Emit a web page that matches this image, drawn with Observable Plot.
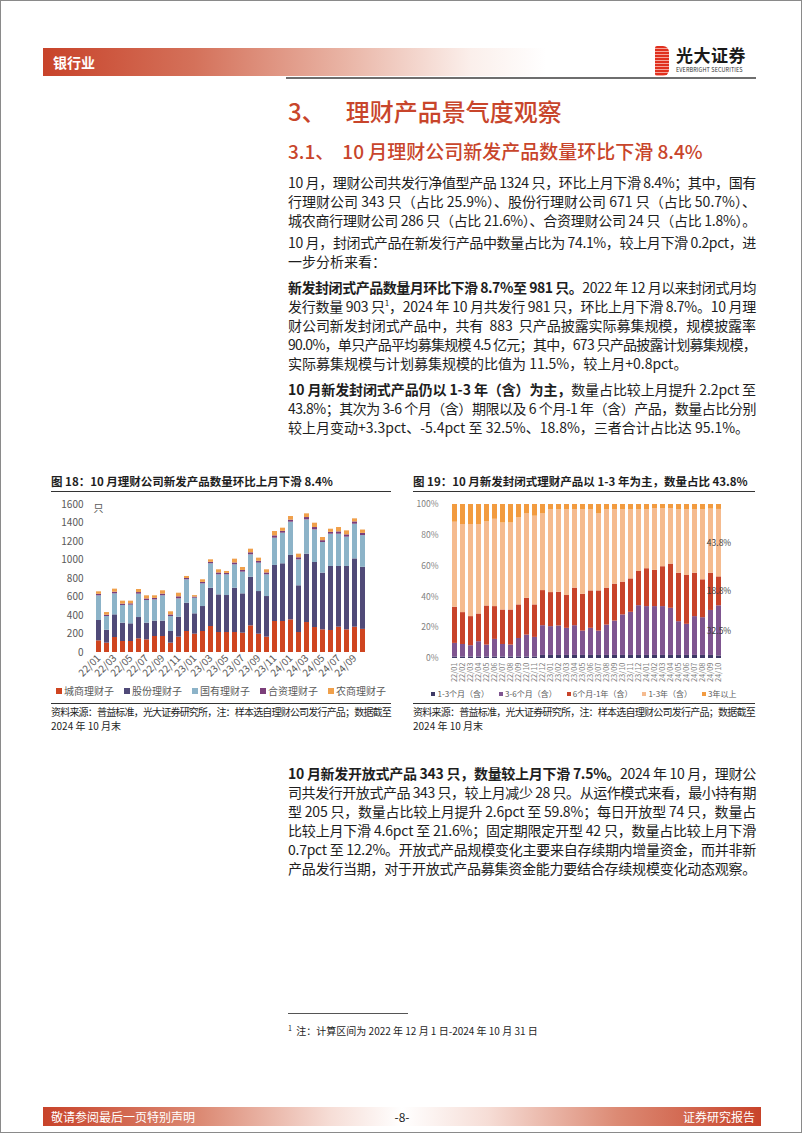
<!DOCTYPE html>
<html><head><meta charset="utf-8">
<script src="https://cdn.jsdelivr.net/npm/d3@7"></script>
<script src="https://cdn.jsdelivr.net/npm/@observablehq/plot@0.6"></script>
<style>
html,body{margin:0;padding:0;background:#fff;}
#page{position:relative;width:802px;height:1133px;overflow:hidden;font-family:"Noto Sans CJK SC","Noto Sans",sans-serif;color:#1e1e1e;box-sizing:border-box;border:1px solid #8a8a8a;}
.abs{position:absolute;}
.para{position:absolute;left:287px;width:468px;font-size:14px;line-height:19px;}
.fit{white-space:nowrap;}
.para b{font-weight:700;}
.figtitle{position:absolute;font-size:11.5px;font-weight:700;line-height:16px;white-space:nowrap;}
.rule{position:absolute;height:1px;background:#333;}
.src{position:absolute;font-size:10px;line-height:14px;color:#1e1e1e;}
.legend{position:absolute;display:flex;white-space:nowrap;color:#595959;}
.legend span.item{display:inline-flex;align-items:center;}
.legend i{display:inline-block;margin-right:2px;}
</style></head>
<body><div id="page">

<!-- header -->
<div class="abs" style="left:42px;top:47px;width:503px;height:28px;background:linear-gradient(to right,#c8432a 0%,#d4715a 30%,#e9b4a5 60%,#fbefeb 85%,#ffffff 100%);"></div>
<div class="abs" style="left:52px;top:47px;height:28px;line-height:28px;color:#fff;font-weight:700;font-size:14px;">银行业</div>
<div class="abs" style="left:285px;top:76px;width:470px;height:2px;background:#6e6e6e;"></div>
<div class="abs" style="left:654px;top:45px;width:14px;height:30px;background:repeating-linear-gradient(to bottom,#e0301e 0px,#e0301e 2.2px,#f6a49a 2.2px,#f6a49a 3px);border-radius:2px 6px 6px 2px;"></div>
<div class="abs" style="left:675px;top:44px;font-size:17px;font-weight:700;color:#1a1a1a;letter-spacing:0.5px;line-height:20px;">光大证券</div>
<div class="abs" style="left:675px;top:66px;font-size:5.5px;color:#333;line-height:7px;letter-spacing:0.1px;">EVERBRIGHT SECURITIES</div>

<!-- section titles -->
<div class="abs" style="left:287px;top:94px;font-size:24px;line-height:32px;color:#c8452b;font-weight:500;white-space:nowrap;">3、<span style="display:inline-block;width:20px;"></span>理财产品景气度观察</div>
<div class="abs" style="left:287px;top:137px;font-size:19px;line-height:26px;color:#c8452b;font-weight:500;white-space:nowrap;">3.1、<span style="display:inline-block;width:8px;"></span>10 月理财公司新发产品数量环比下滑 8.4%</div>

<div class="para" style="top:172px;">
<div class="fit j">10 月，理财公司共发行净值型产品 1324 只，环比上月下滑 8.4%；其中，国有</div>
<div class="fit j">行理财公司 343 只（占比 25.9%）、股份行理财公司 671 只（占比 50.7%）、</div>
<div class="fit">城农商行理财公司 286 只（占比 21.6%）、合资理财公司 24 只（占比 1.8%）。</div>
</div>
<div class="para" style="top:232px;">
<div class="fit j">10 月，封闭式产品在新发行产品中数量占比为 74.1%，较上月下滑 0.2pct，进</div>
<div class="fit">一步分析来看：</div>
</div>
<div class="para" style="top:277px;">
<div class="fit j"><b>新发封闭式产品数量月环比下滑 8.7%至 981 只。</b>2022 年 12 月以来封闭式月均</div>
<div class="fit j">发行数量 903 只<sup style="font-size:8px;line-height:0;">1</sup>，2024 年 10 月共发行 981 只，环比上月下滑 8.7%。10 月理</div>
<div class="fit j">财公司新发封闭式产品中，共有&nbsp; 883&nbsp; 只产品披露实际募集规模，规模披露率</div>
<div class="fit j">90.0%，单只产品平均募集规模 4.5 亿元；其中，673 只产品披露计划募集规模，</div>
<div class="fit">实际募集规模与计划募集规模的比值为 11.5%，较上月+0.8pct。</div>
</div>
<div class="para" style="top:379px;">
<div class="fit j"><b>10 月新发封闭式产品仍以 1-3 年（含）为主，</b>数量占比较上月提升 2.2pct 至</div>
<div class="fit j">43.8%；其次为 3-6 个月（含）期限以及 6 个月-1 年（含）产品，数量占比分别</div>
<div class="fit">较上月变动+3.3pct、-5.4pct 至 32.5%、18.8%，三者合计占比达 95.1%。</div>
</div>

<!-- figure titles -->
<div class="figtitle" style="left:50px;top:472px;">图 18：10 月理财公司新发产品数量环比上月下滑 8.4%</div>
<div class="figtitle" style="left:412px;top:472px;">图 19：10 月新发封闭式理财产品以 1-3 年为主，数量占比 43.8%</div>
<div class="rule" style="left:50px;top:490px;width:340px;"></div>
<div class="rule" style="left:412px;top:490px;width:342px;"></div>

<div id="chartA" class="abs" style="left:50px;top:493px;"></div>
<div id="chartB" class="abs" style="left:412px;top:495px;"></div>
<div id="legendA" class="legend" style="left:50px;top:683px;width:340px;justify-content:center;font-size:10px;line-height:14px;"></div>
<div id="legendB" class="legend" style="left:412px;top:687px;width:342px;justify-content:center;font-size:8px;line-height:12px;"></div>

<div class="rule" style="left:50px;top:702px;width:340px;"></div>
<div class="rule" style="left:412px;top:702px;width:342px;"></div>
<div class="src" style="left:50px;top:704px;width:340px;"><div class="fit" data-w="340">资料来源：普益标准，光大证券研究所，注：样本选自理财公司发行产品；数据截至</div><div>2024 年 10 月末</div></div>
<div class="src" style="left:412px;top:704px;width:342px;"><div class="fit" data-w="342">资料来源：普益标准，光大证券研究所，注：样本选自理财公司发行产品；数据截至</div><div>2024 年 10 月末</div></div>

<div class="para" style="top:763px;">
<div class="fit j"><b>10 月新发开放式产品 343 只，数量较上月下滑 7.5%。</b>2024 年 10 月，理财公</div>
<div class="fit j">司共发行开放式产品 343 只，较上月减少 28 只。从运作模式来看，最小持有期</div>
<div class="fit j">型 205 只，数量占比较上月提升 2.6pct 至 59.8%；每日开放型 74 只，数量占</div>
<div class="fit j">比较上月下滑 4.6pct 至 21.6%；固定期限定开型 42 只，数量占比较上月下滑</div>
<div class="fit j">0.7pct 至 12.2%。开放式产品规模变化主要来自存续期内增量资金，而并非新</div>
<div class="fit j">产品发行当期，对于开放式产品募集资金能力要结合存续规模变化动态观察。</div>
</div>

<!-- footnote -->
<div class="abs" style="left:287px;top:1012px;width:120px;height:1px;background:#555;"></div>
<div class="abs" style="left:287px;top:1019px;font-size:10px;line-height:16px;white-space:nowrap;"><sup style="font-size:7px;">1</sup>&nbsp; 注：计算区间为 2022 年 12 月 1 日-2024 年 10 月 31 日</div>

<!-- footer -->
<div class="abs" style="left:42px;top:1106px;width:718px;height:19px;background:linear-gradient(to right,#c8432a 0%,#dc8a74 22%,#f6ddd6 40%,#ffffff 50%,#f6ddd6 62%,#dc8a74 80%,#c8432a 100%);"></div>
<div class="abs" style="left:50px;top:1106px;height:19px;line-height:19px;font-size:12px;color:#fff;">敬请参阅最后一页特别声明</div>
<div class="abs" style="left:381px;top:1106px;width:40px;text-align:center;height:19px;line-height:19px;font-size:12px;color:#1e1e1e;">-8-</div>
<div class="abs" style="left:655px;top:1106px;width:99px;text-align:right;height:19px;line-height:19px;font-size:12px;color:#fff;">证券研究报告</div>

</div>
<script>
// ---------- data: chart 18 ----------
const monthsA = ["22/01","22/02","22/03","22/04","22/05","22/06","22/07","22/08","22/09","22/10","22/11","22/12",
"23/01","23/02","23/03","23/04","23/05","23/06","23/07","23/08","23/09","23/10","23/11","23/12",
"24/01","24/02","24/03","24/04","24/05","24/06","24/07","24/08","24/09","24/10"];
const seriesA = ["城商理财子","股份理财子","国有理财子","合资理财子","农商理财子"];
const colorsA = ["#cf4520","#504a78","#8cb3c8","#7b3e7a","#f0a04b"];
const chengshang = [126,101,162,119,119,148,137,173,173,101,166,227,198,227,281,216,216,216,209,288,198,166,335,335,353,216,324,270,245,238,274,245,274,250];
const gufen      = [220,140,245,198,191,230,180,166,166,126,216,306,220,270,414,407,400,479,425,526,461,439,606,624,696,505,739,703,613,692,656,685,738,671];
const guoyou     = [267,148,227,191,202,253,245,230,274,162,198,253,169,245,264,217,224,253,235,242,307,235,295,331,360,281,371,353,331,349,349,317,375,343];
const hezi       = [16,14,18,15,14,17,17,16,18,17,22,14,12,16,16,20,15,20,18,22,20,20,25,20,22,22,25,25,20,20,25,25,25,24];
const nongshang  = [27,29,33,32,29,33,34,28,36,34,39,22,16,28,27,34,21,41,32,39,34,34,47,34,39,39,40,47,34,34,47,43,33,36];
const ticksA = [0,200,400,600,800,1000,1200,1400,1600];

// ---------- data: chart 19 ----------
const monthsB = monthsA;
const seriesB = ["1-3个月（含）","3-6个月（含）","6个月-1年（含）","1-3年（含）","3年以上"];
const colorsB = ["#3e3966","#7f5590","#c8432a","#f5bb8f","#f29b3f"];
const m1to3   = [1,1,1,1,1,1,1,1,1,1,1,2,2,2,2,2,2,2,2,2,2,2,2,2,2,2,2,2,2,2,2,2,2,1.7];
const m3to6   = [8.8,8.1,7.3,9.9,7.7,11.4,8.1,7.7,12,14.2,12.7,19.3,18.7,19.1,17.6,19.3,15.8,17.6,15.8,19.7,22.3,26.3,28.0,32.3,31.7,31.7,31.7,30.6,21.9,20.2,25.2,24.5,29.2,32.5];
const m6to12  = [23.5,20.7,18.9,18.0,25.4,21.3,22.4,22.8,21.8,23.9,21.1,22.8,22.1,21.9,21.3,24.4,23.9,24.3,26.1,24.0,24.0,21.3,21.7,22.2,24.6,23.5,25.9,28.7,31.5,31.7,28.2,24.6,24.2,18.8];
const y1to3   = [55.2,57.2,59.8,58.1,54.6,56.7,56.5,56.5,56.5,54.8,57.6,49.8,53.9,53.7,55.8,51.0,55.0,52.8,50.0,51.0,48.4,47.1,45.0,40.2,38.4,40.2,37.8,36.1,41.3,42.8,41.3,45.6,41.6,43.8];
const y3plus  = [11.5,13,13,13,11.3,9.6,12,12,8.7,6.1,7.6,6.1,3.3,3.3,3.3,3.3,3.3,3.3,6.1,3.3,3.3,3.3,3.3,3.3,3.3,2.6,2.6,2.6,3.3,3.3,3.3,3.3,3.0,3.2];
const labelSeriesB = ["3-6个月（含）","6个月-1年（含）","1-3年（含）"];
const ticksB = [0,0.2,0.4,0.6,0.8,1];

// ---------- tables ----------
const colsA = [chengshang, gufen, guoyou, hezi, nongshang];
const tableA = monthsA.flatMap((m,i) => seriesA.map((s,j) => ({month:m, series:s, value:colsA[j][i]})));
const colsB = [m1to3, m3to6, m6to12, y1to3, y3plus];
const tableB = monthsB.flatMap((m,i) => seriesB.map((s,j) => ({month:m, series:s, value:colsB[j][i]})));
const lastB = monthsB[monthsB.length-1];

const font = '"Noto Sans CJK SC","Noto Sans",sans-serif';

const chartA = Plot.plot({
  width: 340, height: 193,
  marginLeft: 37, marginRight: 18, marginTop: 10, marginBottom: 35,
  style: {fontFamily: font, fontSize: "10px", color: "#595959", background: "transparent", overflow: "visible"},
  x: {domain: monthsA, padding: 0.4},
  y: {domain: [0,1600]},
  color: {domain: seriesA, range: colorsA},
  marks: [
    Plot.barY(tableA, {x: "month", y: "value", fill: "series"}),
    Plot.axisY({ticks: ticksA, tickFormat: d => String(d), tickSize: 0, tickPadding: 5, label: null}),
    Plot.axisX({ticks: monthsA.filter((_, i) => i % 2 === 0), tickRotate: -45, tickSize: 0, tickPadding: 4, label: null}),
    Plot.text(["只"], {frameAnchor: "top-left", dx: 5, textAnchor: "start", fill: "#595959", fontSize: 10})
  ]
});
document.getElementById("chartA").appendChild(chartA);

const chartB = Plot.plot({
  width: 342, height: 197,
  marginLeft: 30, marginRight: 26, marginTop: 8, marginBottom: 35,
  style: {fontFamily: font, fontSize: "8.5px", color: "#7f7f7f", background: "transparent", overflow: "visible"},
  x: {domain: monthsB, padding: 0.4},
  y: {domain: [0,1]},
  color: {domain: seriesB, range: colorsB},
  marks: [
    Plot.barY(tableB, {x: "month", y: "value", fill: "series", offset: "normalize"}),
    Plot.axisY({ticks: ticksB, tickFormat: d => Math.round(d*100) + "%", tickSize: 0, tickPadding: 5, label: null}),
    Plot.axisX({tickRotate: -90, tickSize: 0, tickPadding: 4, label: null, fontSize: 7.5}),
    Plot.text(tableB, Plot.stackY({
      x: "month", y: "value", offset: "normalize",
      text: d => (d.month === lastB && labelSeriesB.includes(d.series)) ? d.value.toFixed(1) + "%" : null,
      fill: "#404040", fontSize: 8.5
    }))
  ]
});
document.getElementById("chartB").appendChild(chartB);

// ---------- legends ----------
const legA = document.getElementById("legendA");
seriesA.forEach((s,i) => {
  const it = document.createElement("span"); it.className = "item"; it.style.margin = "0 5px";
  it.innerHTML = `<i style="width:6px;height:6px;background:${colorsA[i]}"></i>${s}`;
  legA.appendChild(it);
});
const legB = document.getElementById("legendB");
seriesB.forEach((s,i) => {
  const it = document.createElement("span"); it.className = "item"; it.style.margin = "0 5px";
  it.innerHTML = `<i style="width:4px;height:4px;background:${colorsB[i]}"></i>${s}`;
  legB.appendChild(it);
});

// ---------- fit text lines to column width via letter-spacing ----------
document.querySelectorAll(".fit").forEach(el => {
  const target = el.dataset.w ? +el.dataset.w : 468;
  el.style.display = "inline-block";
  const w = el.getBoundingClientRect().width;
  const n = el.textContent.length;
  const justify = el.classList.contains("j") || el.dataset.w;
  if (justify || w > target) {
    el.style.letterSpacing = ((target - w) / n) + "px";
  }
  el.style.display = "block";
});
</script>
</body></html>
